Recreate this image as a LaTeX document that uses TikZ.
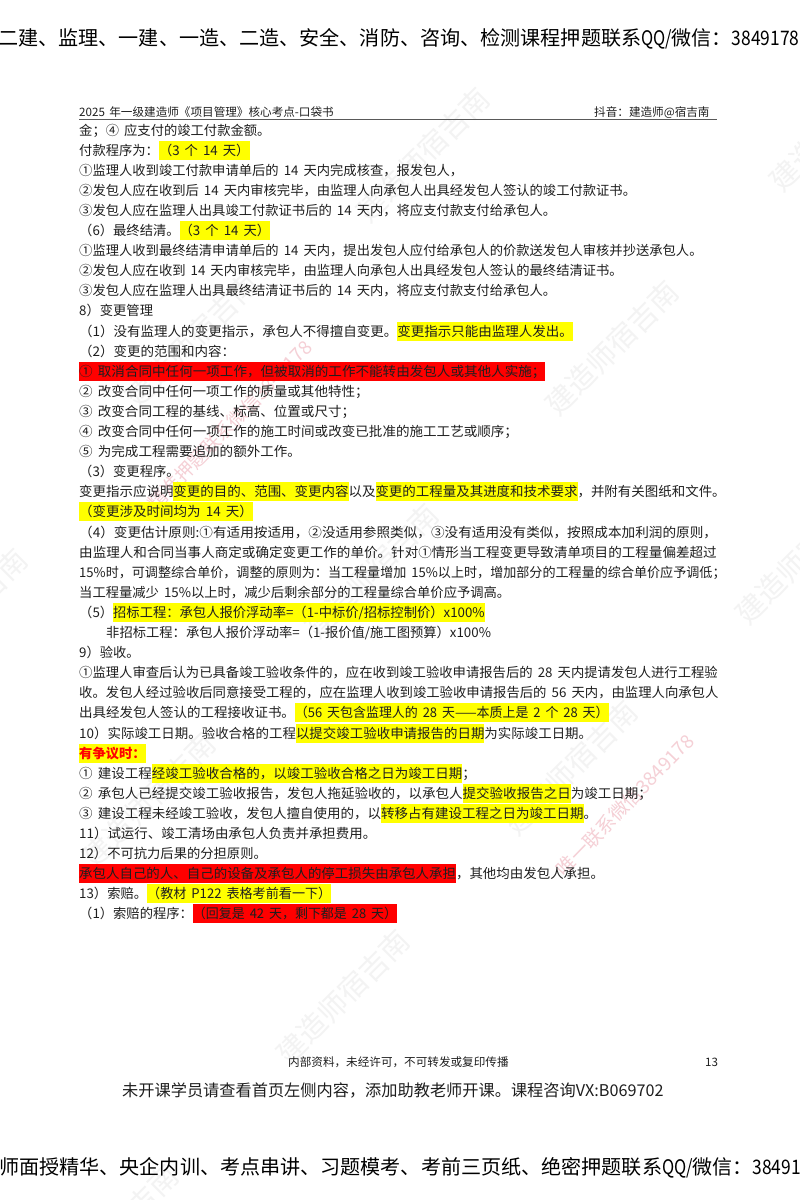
\documentclass[tikz,border=0pt]{standalone}
\usepackage{fontspec}
\usepackage{xcolor}
\setmainfont[WordSpace=1.7]{Noto Sans CJK SC}
\definecolor{hly}{HTML}{FFFF00}
\definecolor{hlr}{HTML}{FF0000}
\definecolor{ink}{HTML}{1E1E1E}
\definecolor{wmgray}{HTML}{F3F3F3}
\definecolor{wmpink}{HTML}{F5D0D6}
\newcommand\hlbox[2]{{\setlength\fboxsep{0pt}\colorbox{#1}{\rule[-4.5pt]{0pt}{19pt}#2}}}
\newcommand\hy[1]{\hlbox{hly}{#1}}
\newcommand\hr[1]{\hlbox{hlr}{#1}}
\newcommand\sx[2]{\scalebox{#1}[1]{#2}}
\newcommand\tline[4]{\node[bodyline] (#1) at (#2,{135+20.1*#3}) {#4};}
\newcommand\tlinesc[4]{\node[bodyline] (#1) at (79,{135+20.1*#2}) {\scalebox{#3}[1]{#4}};}
\newcommand\wmg[3]{\node[wmtext] (#1) at (#2,#3) {建造师宿吉南};}
\tikzset{
  x=1pt,y=-1pt,
  bodyline/.style={anchor=base west,inner sep=0pt,text=ink,font=\fontsize{13.3pt}{13.3pt}\selectfont},
  smallline/.style={anchor=base west,inner sep=0pt,text=ink,font=\fontsize{11.6pt}{11.6pt}\selectfont},
  banner/.style={anchor=base west,inner sep=0pt,text=black,font=\fontsize{20pt}{20pt}\selectfont},
  notice/.style={anchor=base west,inner sep=0pt,text=ink,font=\fontsize{16.2pt}{16.2pt}\selectfont},
  wmtext/.style={rotate=45,inner sep=0pt,text=wmgray,font=\fontsize{29pt}{29pt}\selectfont},
  wmpinktext/.style={rotate=46,inner sep=0pt,text=wmpink,font=\fontsize{19pt}{19pt}\selectfont},
}
\begin{document}
\begin{tikzpicture}
\useasboundingbox[fill=white] (0,0) rectangle (800,1200);
% watermarks
\wmg{wa}{423}{155}
\wmg{wb}{612}{348}
\wmg{wc}{802}{557}
\wmg{wd}{836}{124}
\wmg{we}{192}{340}
\wmg{wf}{372}{571}
\wmg{wg}{-39}{616}
\wmg{wh}{571}{768}
\wmg{wi}{149}{800}
\wmg{wj}{343}{997}
\wmg{wk}{112}{1232}
\node[wmpinktext] (pa) at (230,425) {精准押题联系微信3849178};
\node[wmpinktext] (pb) at (625,805) {唯一联系微信3849178};
% banners
\node[banner] (top) at (-2,45) {\sx{1.005}{二建、监理、一建、一造、二造、安全、消防、咨询、检测课程押题联系}\sx{.82}{QQ/}微信：\sx{.87}{3849178}};
\node[banner] (bot) at (-1,1174) {\sx{1.0045}{师面授精华、央企内训、考点串讲、习题模考、考前三页纸、绝密押题联系}\sx{.82}{QQ/}微信：\sx{.87}{3849178}};
% header
\node[smallline] (hl) at (79,116) {2025 年一级建造师《项目管理》核心考点-口袋书};
\node[smallline] (hr) at (594,116) {抖音：建造师@宿吉南};
\coordinate (ra) at (79,119.5);
\coordinate (rb) at (717,119.5);
\draw[line width=1.3pt,draw=black!65] (ra) -- (rb);
% body
\tline{l0}{79}{0}{金；④ 应支付的竣工付款金额。}
\tline{l1}{79}{1}{付款程序为：\hy{（3 个 14 天）}}
\tline{l2}{79}{2}{①监理人收到竣工付款申请单后的 14 天内完成核查，报发包人，}
\tline{l3}{79}{3}{②发包人应在收到后 14 天内审核完毕，由监理人向承包人出具经发包人签认的竣工付款证书。}
\tline{l4}{79}{4}{③发包人应在监理人出具竣工付款证书后的 14 天内，将应支付款支付给承包人。}
\tline{l5}{79}{5}{（6）最终结清。\hy{（3 个 14 天）}}
\tline{l6}{79}{6}{①监理人收到最终结清申请单后的 14 天内，提出发包人应付给承包人的价款送发包人审核并抄送承包人。}
\tline{l7}{79}{7}{②发包人应在收到 14 天内审核完毕，由监理人向承包人出具经发包人签认的最终结清证书。}
\tline{l8}{79}{8}{③发包人应在监理人出具最终结清证书后的 14 天内，将应支付款支付给承包人。}
\tline{l9}{79}{9}{8）变更管理}
\tlinesc{l10}{10}{1.0156}{（1）没有监理人的变更指示，承包人不得擅自变更。\hy{变更指示只能由监理人发出。}}
\tlinesc{l11}{11}{1.015}{（2）变更的范围和内容：}
\tlinesc{l12}{12}{1.0197}{\hr{① 取消合同中任何一项工作，但被取消的工作不能转由发包人或其他人实施；}}
\tlinesc{l13}{13}{1.018}{② 改变合同中任何一项工作的质量或其他特性；}
\tlinesc{l14}{14}{1.018}{③ 改变合同工程的基线、标高、位置或尺寸；}
\tlinesc{l15}{15}{1.019}{④ 改变合同中任何一项工作的施工时间或改变已批准的施工工艺或顺序；}
\tlinesc{l16}{16}{1.018}{⑤ 为完成工程需要追加的额外工作。}
\tline{l17}{79}{17}{（3）变更程序。}
\tlinesc{l18}{18}{1.0127}{变更指示应说明\hy{变更的目的、范围、变更内容}以及\hy{变更的工程量及其进度和技术要求}，并附有关图纸和文件。}
\tlinesc{l19}{19}{1.015}{\hy{（变更涉及时间均为 14 天）}}
\tlinesc{l20}{20}{1.024}{（4）变更估计原则:①有适用按适用，②没适用参照类似，③没有适用没有类似，按照成本加利润的原则，}
\tlinesc{l21}{21}{1.02}{由监理人和合同当事人商定或确定变更工作的单价。针对①情形当工程变更导致清单项目的工程量偏差超过}
\tlinesc{l22}{22}{0.983}{15\%时，可调整综合单价，调整的原则为：当工程量增加 15\%以上时，增加部分的工程量的综合单价应予调低；}
\tline{l23}{79}{23}{当工程量减少 15\%以上时，减少后剩余部分的工程量综合单价应予调高。}
\tline{l24}{79}{24}{（5）\hy{招标工程：承包人报价浮动率=（1-中标价/招标控制价）x100\%}}
\tline{l25}{106}{25}{非招标工程：承包人报价浮动率=（1-报价值/施工图预算）x100\%}
\tline{l26}{79}{26}{9）验收。}
\tlinesc{l27}{27}{1.003}{①监理人审查后认为已具备竣工验收条件的，应在收到竣工验收申请报告后的 28 天内提请发包人进行工程验}
\tlinesc{l28}{28}{1.004}{收。发包人经过验收后同意接受工程的，应在监理人收到竣工验收申请报告后的 56 天内，由监理人向承包人}
\tlinesc{l29}{29}{1.014}{出具经发包人签认的工程接收证书。\hy{\sx{.96}{（56 天包含监理人的 28 天——本质上是 2 个 28 天）}}}
\tlinesc{l30}{30}{1.012}{10）实际竣工日期。验收合格的工程\hy{以提交竣工验收申请报告的日期}为实际竣工日期。}
\tline{l31}{79}{31}{\hy{\textcolor{hlr}{\bfseries 有争议时：}}}
\tlinesc{l32}{32}{1.015}{① 建设工程\hy{经竣工验收合格的，以竣工验收合格之日为竣工日期}；}
\tlinesc{l33}{33}{1.016}{② 承包人已经提交竣工验收报告，发包人拖延验收的，以承包人\hy{提交验收报告之日}为竣工日期；}
\tlinesc{l34}{34}{1.0146}{③ 建设工程未经竣工验收，发包人擅自使用的，以\hy{转移占有建设工程之日为竣工日期}。}
\tlinesc{l35}{35}{1.01}{11）试运行、竣工清场由承包人负责并承担费用。}
\tline{l36}{79}{36}{12）不可抗力后果的分担原则。}
\tlinesc{l37}{37}{1.012}{\hr{承包人自己的人、自己的设备及承包人的停工损失由承包人承担}，其他均由发包人承担。}
\tline{l38}{79}{38}{13）索赔。\hy{\sx{.985}{（教材 P122 表格考前看一下）}}}
\tline{l39}{79}{39}{（1）索赔的程序：\hr{\sx{.975}{（回复是 42 天，剩下都是 28 天）}}}
% footer
\node[smallline] (fa) at (288,1066) {内部资料，未经许可，不可转发或复印传播};
\node[smallline] (fb) at (705,1066) {13};
\node[notice] (fc) at (122,1096) {未开课学员请查看首页左侧内容，添加助教老师开课。课程咨询VX:B069702};
\end{tikzpicture}
\end{document}
